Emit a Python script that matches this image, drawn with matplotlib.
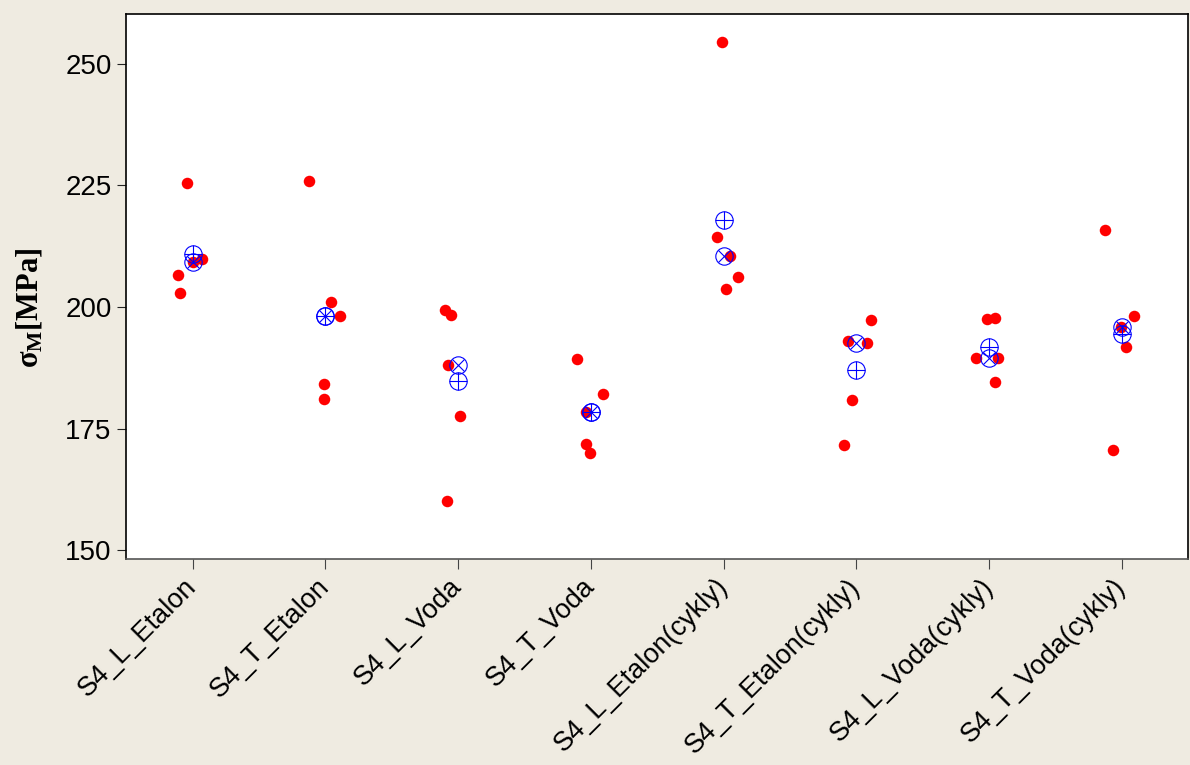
import numpy as np
import matplotlib
matplotlib.use("Agg")
import matplotlib.pyplot as plt

# ---------------- data ----------------
categories = ["S4_L_Etalon", "S4_T_Etalon", "S4_L_Voda", "S4_T_Voda",
              "S4_L_Etalon(cykly)", "S4_T_Etalon(cykly)",
              "S4_L_Voda(cykly)", "S4_T_Voda(cykly)"]

g1 = [225.6, 206.6, 202.9, 209.8, 209.3]
g2 = [226.0, 201.1, 198.1, 184.2, 181.1]
g3 = [199.4, 198.4, 188.1, 177.6, 160.1]
g4 = [189.3, 182.2, 178.3, 171.8, 169.9]
g5 = [254.5, 214.4, 210.5, 206.2, 203.8]
g6 = [197.3, 193.1, 192.5, 180.8, 171.7]
g7 = [197.5, 197.7, 189.6, 189.6, 184.5]
g8 = [215.8, 198.1, 195.9, 191.7, 170.6]
groups = [g1, g2, g3, g4, g5, g6, g7, g8]

# horizontal jitter of the individual points (category units)
jitter = [
    [-0.045, -0.113, -0.094, 0.068, 0.0],
    [-0.120, 0.045, 0.113, -0.011, -0.011],
    [-0.095, -0.055, -0.075, 0.018, -0.085],
    [-0.105, 0.092, -0.033, -0.038, -0.008],
    [-0.012, -0.047, 0.048, 0.111, 0.021],
    [0.113, -0.063, 0.083, -0.030, -0.090],
    [-0.014, 0.049, -0.096, 0.066, 0.049],
    [-0.123, 0.090, -0.005, 0.030, -0.063],
]

yticks = [150, 175, 200, 225, 250]

# ---------------- style ----------------
BG = "#EFEBE1"
plt.rcParams['font.family'] = ['Liberation Sans', 'DejaVu Sans']
plt.rcParams['mathtext.fontset'] = 'custom'
plt.rcParams['mathtext.rm'] = 'Liberation Serif:bold'
plt.rcParams['mathtext.it'] = 'Liberation Serif:bold'
plt.rcParams['mathtext.bf'] = 'Liberation Serif:bold'

fig = plt.figure(figsize=(11.9, 7.65), dpi=100, facecolor=BG)
ax = fig.add_axes([126.3/1190, 1-559.3/765, (1188-126.3)/1190, (559.3-14.3)/765])
ax.set_facecolor("white")

xpos = np.arange(1, len(categories) + 1)

for i, (vals, jit) in enumerate(zip(groups, jitter)):
    x = xpos[i] + np.array(jit)
    ax.plot(x, vals, linestyle='none', marker='o', ms=8.3, mfc='#FF0000',
            mec='#FF0000', mew=0, zorder=3)

means = [np.mean(g) for g in groups]
medians = [np.median(g) for g in groups]

ring = dict(linestyle='none', marker='o', ms=12.5, mfc='none', mec='#0000FF', mew=0.8, zorder=4)
ax.plot(xpos, means, **ring)
ax.plot(xpos, means, linestyle='none', marker='+', ms=12.5, mec='#0000FF', mew=0.8, zorder=4)
ax.plot(xpos, medians, **ring)
ax.plot(xpos, medians, linestyle='none', marker='x', ms=8.8, mec='#0000FF', mew=0.8, zorder=4)

ax.set_xlim(0.5, 8.5)
ax.set_ylim(148.1, 260.2)
ax.set_yticks(yticks)
ax.set_yticklabels([str(v) for v in yticks], fontsize=20)
ax.set_xticks(xpos)
ax.set_xticklabels(categories, fontsize=19.5, rotation=45, ha='right',
                   va='center', rotation_mode='anchor')
ax.tick_params(axis='y', length=6.5, width=0.8, pad=4, color='#222222')
ax.tick_params(axis='x', length=7, width=0.8, pad=10, color='#444444')

for s in ax.spines.values():
    s.set_linewidth(1.2)
    s.set_color('black')
ax.spines['bottom'].set_color('#555555')

fig.text(29/1190, 1-308/765, r'$\sigma_{\rm M}$[MPa]', rotation=90, ha='center', va='center',
         fontsize=22, family='Liberation Serif', fontweight='bold')

fig.savefig("out.png", dpi=100, facecolor=BG)
